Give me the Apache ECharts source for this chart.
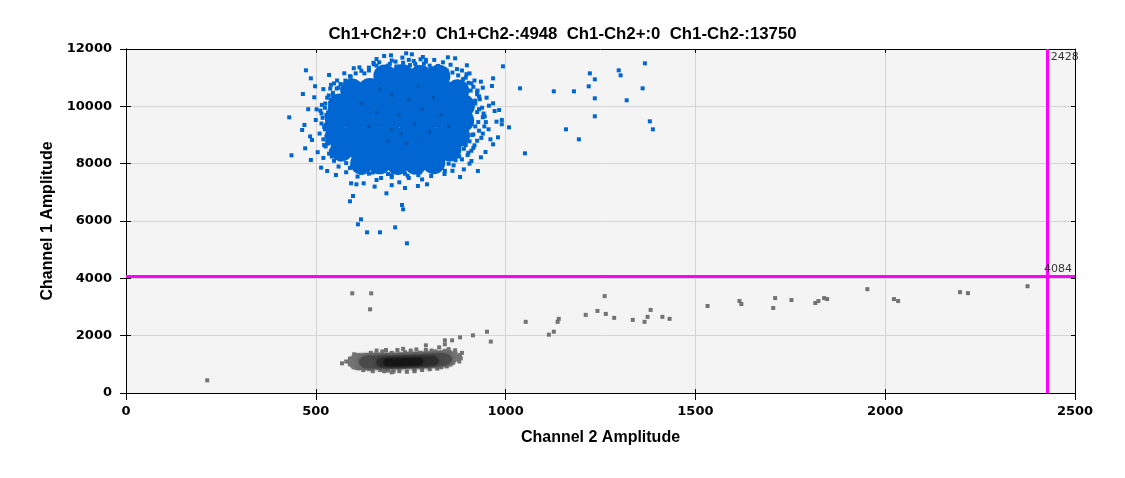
<!DOCTYPE html>
<html>
<head>
    <meta charset="UTF-8">
    <title>Channel amplitude scatter</title>
    <script src="https://cdn.jsdelivr.net/npm/echarts@6/dist/echarts.min.js"></script>
    <style>
        html, body { margin: 0; padding: 0; background: #fff; }
        #main { width: 1125px; height: 478px; }
    </style>
</head>
<body>
<div id="main"></div>
<script>
    var titleText = 'Ch1+Ch2+:0  Ch1+Ch2-:4948  Ch1-Ch2+:0  Ch1-Ch2-:13750';
    var xName = 'Channel 2 Amplitude';
    var yName = 'Channel 1 Amplitude';
    var xGate = 2428;
    var yGate = 4084;

    // dense part of the Ch1+ cluster, drawn with big dots
    var blueCore = [
        [682, 11058], [729, 11070], [776, 11040], [824, 11050],
        [595, 10570], [642, 10590], [689, 10560], [737, 10580], [784, 10570], [832, 10560], [874, 10540],
        [563, 10047], [611, 10060], [658, 10030], [705, 10050], [753, 10047], [800, 10040], [847, 10060], [889, 10020],
        [555, 9523], [603, 9530], [650, 9510], [697, 9523], [745, 9540], [792, 9520], [839, 9510], [887, 9500],
        [555, 9000], [603, 9010], [650, 8990], [697, 9000], [745, 9020], [792, 9000], [839, 8990], [876, 8980],
        [568, 8477], [616, 8490], [663, 8470], [711, 8480], [758, 8477], [805, 8460], [853, 8480],
        [621, 8023], [668, 8030], [716, 8010], [763, 8023], [811, 8040]
    ];

    // droplets packed along the rim of the dense part
    var blueRim = [
        [640, 11350], [660, 11420], [675, 11300], [695, 11480], [712, 11390], [730, 11520], [748, 11440],
        [765, 11380], [785, 11490], [803, 11330], [822, 11410], [845, 11250], [860, 11180], [620, 11240],
        [700, 11600], [758, 11580],
        [875, 11080], [888, 10950], [902, 10820], [915, 10680], [908, 10550], [925, 10420], [897, 11120], [918, 10900],
        [932, 10250], [920, 10100], [938, 9950], [925, 9800], [940, 9620], [928, 9450], [944, 9300],
        [930, 9150], [915, 9020], [936, 8900],
        [905, 8780], [918, 8640], [890, 8520], [902, 8380], [878, 8250], [868, 8120], [850, 8000], [885, 8150],
        [832, 7880], [815, 7760], [795, 7820], [775, 7700], [752, 7760], [735, 7650], [712, 7720],
        [690, 7640], [670, 7760], [650, 7690], [628, 7820], [612, 7760], [595, 7900], [580, 8020],
        [742, 7580], [700, 7530],
        [565, 8150], [552, 8300], [540, 8450], [548, 8620], [530, 8780],
        [528, 8950], [536, 9120], [522, 9280], [530, 9450], [518, 9600], [532, 9780], [524, 9950],
        [538, 10120], [530, 10300], [545, 10470],
        [555, 10620], [565, 10780], [578, 10900], [592, 11030], [605, 11150], [570, 10550], [548, 10800],
        [524, 9200], [520, 8850], [528, 9700], [516, 10050], [534, 10380], [526, 8600], [542, 8250],
        [515, 9400], [512, 9850], [538, 10620], [942, 9750], [948, 9450], [926, 10550], [910, 8450],
        [652, 11520], [790, 11620], [620, 7680], [770, 7600], [840, 7750],
        [534, 9030], [530, 9560], [536, 9860], [540, 10230], [532, 8700], [526, 9350]
    ];

    // ragged edge of the Ch1+ cluster
    var blueEdge = [
        [600, 11330], [615, 11360], [640, 11250], [653, 11466], [667, 11535], [680, 11756], [690, 11420],
        [698, 11780], [710, 11560], [722, 11390], [738, 11850], [745, 11620], [753, 11815], [762, 11480],
        [770, 11300], [782, 11721], [790, 11560], [800, 11420], [812, 11620], [820, 11380], [835, 11535],
        [848, 11710], [855, 11450], [867, 11675], [872, 11300], [885, 11250], [898, 11431], [905, 11150],
        [628, 11150], [660, 11650], [728, 11700], [776, 11640], [840, 11300], [575, 11152], [590, 11050],
        [474, 11257], [487, 10977], [535, 11093], [466, 10430], [496, 10315], [430, 9617], [464, 9174],
        [436, 8292], [472, 8536], [487, 8128], [502, 9896], [500, 9523], [490, 8826], [514, 7861],
        [530, 7744], [520, 10600], [540, 10750], [545, 10400], [525, 10100], [515, 9750], [530, 9300],
        [510, 9050], [522, 8650], [540, 8900], [535, 8350], [548, 8100], [556, 10900], [560, 10650],
        [545, 9700], [538, 9950], [552, 9200], [546, 8550], [520, 8200], [505, 8400], [560, 7900],
        [498, 10700], [480, 9900], [470, 9350], [485, 8950],
        [553, 7605], [593, 7315], [607, 7280], [626, 7315], [660, 7430], [686, 6966], [598, 6872],
        [590, 6687], [727, 6558], [730, 6408], [619, 6059], [611, 5884], [635, 5605], [669, 5605],
        [709, 5779], [740, 5222], [769, 7221], [793, 7280], [804, 7570], [839, 7640], [863, 7942],
        [880, 7535], [927, 7744], [580, 7700], [610, 7550], [640, 7650], [672, 7500], [700, 7600],
        [720, 7350], [745, 7500], [760, 7700], [780, 7450], [815, 7800], [700, 7250], [655, 7200],
        [735, 7150], [860, 7750], [590, 7850],
        [910, 8093], [935, 8222], [947, 8407], [967, 8675], [980, 8919], [990, 9373], [990, 9523],
        [976, 9465], [983, 9872], [971, 9837], [956, 10023], [967, 10106], [964, 10709], [967, 10977],
        [935, 10860], [900, 8300], [915, 8550], [925, 8800], [940, 9050], [920, 9300], [945, 9650],
        [930, 9900], [950, 10300], [925, 10500], [940, 10650], [910, 10800], [895, 11000], [905, 8000],
        [890, 7800], [955, 9200], [960, 8850], [920, 10200], [905, 9700], [912, 9000], [895, 8650],
        [930, 10350]
    ];

    var blueOutliers = [
        [993, 11395], [1038, 10628], [1127, 10523], [1180, 10523], [1222, 11150], [1235, 10942],
        [1219, 10698], [1235, 10280], [1298, 11256], [1303, 11081], [1367, 11500], [1361, 10628],
        [1319, 10210], [1235, 9652], [1380, 9477], [1388, 9198], [1159, 9198], [1193, 8849],
        [1009, 9268], [1051, 8361]
    ];

    // overlapping droplets inside the dense part, shown a shade darker
    var blueOverlap = [
        [700, 10400], [745, 10250], [660, 9800], [720, 9700], [780, 9900], [810, 10300], [640, 9300],
        [700, 9200], [760, 9400], [690, 8800], [740, 8700], [800, 9100], [830, 9700], [620, 10100],
        [770, 10700], [670, 10600], [850, 9300], [725, 9050]
    ];

    // Ch1-Ch2- cluster, from light outer density to dark centre
    var greyOuter = [
        [612, 1090], [630, 1095], [648, 1105], [666, 1110], [684, 1115], [702, 1120], [720, 1125],
        [738, 1130], [756, 1140], [774, 1150], [792, 1160], [810, 1175], [828, 1190], [846, 1210]
    ];
    var greyMid = [
        [640, 1080], [660, 1085], [685, 1090], [710, 1095], [735, 1105], [760, 1115], [785, 1130],
        [810, 1150], [832, 1170]
    ];
    var greyInner = [
        [675, 1070], [688, 1072], [700, 1075], [712, 1078], [724, 1080], [736, 1084], [748, 1088],
        [760, 1092], [772, 1098], [784, 1105], [796, 1112], [808, 1120]
    ];
    var greyCentre = [
        [690, 1070], [700, 1072], [710, 1075], [720, 1077], [730, 1080], [740, 1083], [750, 1086],
        [760, 1090], [770, 1095]
    ];
    var greyEdge = [
        [590, 1000], [595, 1150], [600, 900], [612, 1250], [625, 800], [630, 1300], [645, 1400],
        [650, 760], [660, 1350], [675, 1450], [690, 780], [700, 1400], [715, 1500], [720, 760],
        [735, 1420], [750, 1480], [760, 790], [775, 1400], [790, 1500], [800, 830], [815, 1450],
        [830, 900], [845, 1380], [855, 1000], [870, 1300], [878, 1100], [885, 1400], [865, 1150],
        [610, 1100], [620, 950], [700, 720], [740, 740], [601, 1349], [569, 1035],
        [660, 1480], [685, 1500], [730, 1540], [765, 1520], [805, 1480], [840, 1470], [850, 1530],
        [670, 800], [680, 760], [705, 750], [760, 760], [780, 800], [820, 850], [845, 930], [590, 1200],
        [580, 1100], [640, 840],
        [588, 1080], [596, 960], [603, 1220], [592, 1130], [875, 1250], [872, 1180], [880, 1330],
        [862, 1060], [868, 1380], [858, 1290], [608, 1040], [598, 1040]
    ];
    var greyOutliers = [
        [214, 442], [596, 3477], [646, 3477], [643, 2919],
        [790, 1663], [825, 1594], [840, 1838], [859, 1838], [840, 1698], [880, 1942], [914, 2012],
        [867, 1489], [882, 1210],
        [951, 2138], [961, 1793], [1053, 2483], [1114, 2035], [1127, 2138], [1137, 2483], [1140, 2587],
        [1211, 2725], [1242, 2863], [1261, 3380], [1264, 2759], [1286, 2621], [1335, 2552], [1366, 2483],
        [1374, 2656], [1382, 2897], [1413, 2656], [1432, 2587], [1532, 3035], [1616, 3208], [1621, 3104],
        [1705, 2966], [1710, 3311], [1753, 3242], [1816, 3139], [1824, 3208], [1839, 3311], [1847, 3277],
        [1953, 3622], [2023, 3277], [2034, 3208], [2197, 3518], [2218, 3484], [2375, 3725]
    ];

    var blue = '#0066d2';
    var tickFont = {fontFamily: 'DejaVu Sans', fontSize: 13, fontWeight: 'bold', color: '#000'};
    var nameFont = {fontFamily: 'Liberation Sans', fontSize: 16, fontWeight: 'bold', color: '#000'};

    var chart = echarts.init(document.getElementById('main'), null, {renderer: 'canvas'});

    function xAx(pos, inside, len, labels) {
        return {
            type: 'value', position: pos, min: 0, max: 2500, interval: 500,
            axisLine: {show: true, onZero: false, lineStyle: {color: '#000', width: 1}},
            axisTick: {show: true, inside: inside, length: len, lineStyle: {color: '#000'}},
            axisLabel: labels ? Object.assign({margin: 12, formatter: function (v) { return String(v); }}, tickFont) : {show: false},
            splitLine: {show: labels, lineStyle: {color: '#d4d4d4', width: 1}},
            name: labels ? xName : '', nameLocation: 'middle', nameGap: 37,
            nameTextStyle: nameFont
        };
    }
    function yAx(pos, inside, len, labels) {
        return {
            type: 'value', position: pos, min: 0, max: 12000, interval: 2000,
            axisLine: {show: true, onZero: false, lineStyle: {color: '#000', width: 1}},
            axisTick: {show: true, inside: inside, length: len, lineStyle: {color: '#000'}},
            axisLabel: labels ? Object.assign({margin: 14, formatter: function (v) { return String(v); }}, tickFont) : {show: false},
            splitLine: {show: labels, lineStyle: {color: '#d4d4d4', width: 1}},
            name: labels ? yName : '', nameLocation: 'middle', nameGap: 68,
            nameTextStyle: nameFont
        };
    }

    function dots(data, symbol, size, color, z, blur) {
        return {
            type: 'scatter', data: data, symbol: symbol, symbolSize: size, z: z,
            xAxisIndex: 0, yAxisIndex: 0, silent: true,
            itemStyle: {color: color, opacity: 1, shadowBlur: blur || 0, shadowColor: color}
        };
    }

    var option = {
        animation: false,
        backgroundColor: '#fff',
        title: {
            text: titleText, left: 'center', top: 21,
            textStyle: {fontFamily: 'Liberation Sans', fontSize: 16.8, fontWeight: 'bold', color: '#000'}
        },
        grid: {left: 126, right: 50, top: 49, bottom: 85, show: true, backgroundColor: '#f4f4f4', borderWidth: 0},
        xAxis: [xAx('bottom', false, 7, true), xAx('top', true, 4, false), xAx('bottom', true, 4, false)],
        yAxis: [yAx('left', false, 6, true), yAx('right', true, 4, false), yAx('left', true, 5, false)],
        series: [
            dots(greyOuter, 'circle', [18, 17], '#6e6e6e', 3, 2),
            dots(greyEdge, 'rect', 4, '#737373', 3),
            dots(greyMid, 'circle', [20, 13], '#4a4a4a', 4, 4),
            dots(greyInner, 'circle', [12, 9], '#2c2c2c', 5, 4),
            dots(greyCentre, 'circle', [9, 7], '#161616', 6, 3),
            dots(greyOutliers, 'rect', 4, '#737373', 2),
            dots(blueCore, 'circle', 23, blue, 3),
            dots(blueRim, 'rect', 4, blue, 3),
            dots(blueEdge, 'rect', 4, blue, 3),
            dots(blueOutliers, 'rect', 4, blue, 3),
            dots(blueOverlap, 'rect', 3, '#0052aa', 4),
            {
                type: 'scatter', name: 'gates', z: 10, silent: true, symbolSize: 0,
                data: [
                    {value: [xGate, 12000], label: {show: true, formatter: String(xGate), position: [3, 3], align: 'left', verticalAlign: 'top'}},
                    {value: [2500, yGate], label: {show: true, formatter: String(yGate), position: [-3, -1], align: 'right', verticalAlign: 'bottom'}}
                ],
                label: {fontFamily: 'DejaVu Sans', fontSize: 11, color: '#000'},
                markLine: {
                    silent: true, symbol: 'none', animation: false,
                    label: {show: false},
                    lineStyle: {color: '#ff00ff', width: 3, type: 'solid'},
                    data: [{xAxis: xGate}, {yAxis: yGate}]
                }
            }
        ]
    };
    chart.setOption(option);
</script>
</body>
</html>
